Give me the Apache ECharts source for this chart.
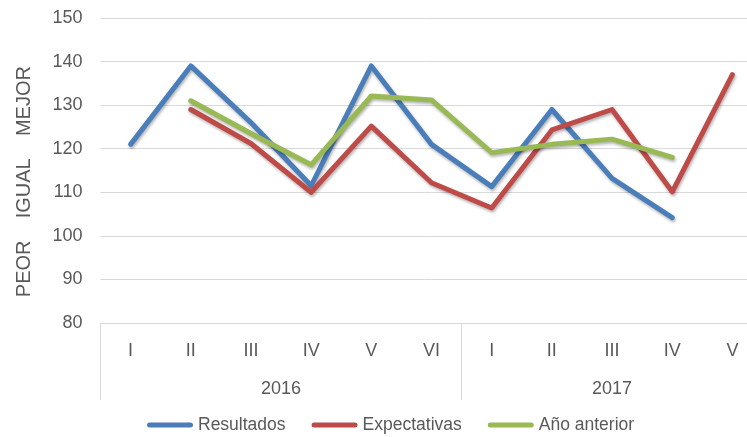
<!DOCTYPE html>
<html>
<head>
<meta charset="utf-8">
<script src="https://cdn.jsdelivr.net/npm/echarts@6/dist/echarts.min.js"></script>
<style>
html,body{margin:0;padding:0;background:#fff;}
#chart{width:747px;height:437px;}
</style>
</head>
<body>
<div id="chart"></div>
<script>
// ---- data ----
var months = ['I','II','III','IV','V','VI','I','II','III','IV','V'];
var years = ['2016','2017'];
var yearSpans = [6,5];
var resultados   = [121,139,126,111.5,139,121,111.3,129,113.2,104.2,null];
var expectativas = [null,129,121.2,110,125.2,112.2,106.4,124.3,129,110.1,137];
var anoAnterior  = [null,131,123.5,116.3,132.1,131.2,119.1,121,122.2,118,null];
var yTicks = {min:80, max:150, step:10};
var seriesNames = ['Resultados','Expectativas','Año anterior'];
var yName = 'PEOR    IGUAL    MEJOR    ';

// build two-level axis (half-slot points)
var yearPoints = [], boundaries = [0], pos = 0;
for (var i = 0; i <= months.length*2; i++) yearPoints.push('');
years.forEach(function(y, k){
  yearPoints[2*pos + yearSpans[k]] = y;
  pos += yearSpans[k];
  boundaries.push(2*pos);
});

var FONT = 'Liberation Sans';
var GREY = '#595959';
var LINEC = '#d9d9d9';
var colors = ['#4a7ebb','#be4b48','#98b954'];

function mkSeries(name, data, c){
  return {
    name: name, type: 'line', data: data, xAxisIndex: 0,
    symbol: 'none', connectNulls: false, smooth: false,
    lineStyle: {width: 5, color: c, cap: 'round', join: 'round',
      shadowColor: 'rgba(0,0,0,0.3)', shadowBlur: 3, shadowOffsetX: 1, shadowOffsetY: 2},
    itemStyle: {color: c}
  };
}

var chart = echarts.init(document.getElementById('chart'), null, {renderer:'canvas'});
chart.setOption({
  animation: false,
  backgroundColor: '#ffffff',
  color: colors,
  grid: {left: 100.5, top: 18, width: 662, height: 305, containLabel: false, outerBoundsMode: 'none'},
  legend: {
    data: seriesNames, left: 147, top: 416, itemGap: 26, padding: 0,
    itemWidth: 46, itemHeight: 5,
    icon: 'path://M2.5,0 H43.5 A2.5,2.5 0 0 1 43.5,5 H2.5 A2.5,2.5 0 0 1 2.5,0 Z',
    textStyle: {fontFamily: FONT, fontSize: 17.5, color: GREY}
  },
  xAxis: [{
    type: 'category', data: months, boundaryGap: true, position: 'bottom',
    axisLine: {show: true, lineStyle: {color: LINEC, width: 1}},
    axisTick: {show: false},
    axisLabel: {color: GREY, fontFamily: FONT, fontSize: 18, margin: 19, interval: 0},
    splitLine: {show: false}
  },{
    type: 'category', data: yearPoints, boundaryGap: false, position: 'bottom',
    axisLine: {show: false},
    axisTick: {show: true, length: 77, lineStyle: {color: LINEC, width: 1},
      interval: function(i){ return boundaries.indexOf(i) >= 0; }},
    axisLabel: {color: GREY, fontFamily: FONT, fontSize: 18, margin: 57,
      interval: function(i, v){ return v !== ''; }, hideOverlap: false},
    splitLine: {show: false}
  }],
  yAxis: {
    type: 'value', min: yTicks.min, max: yTicks.max, interval: yTicks.step,
    name: yName, nameLocation: 'middle', nameGap: 66, nameRotate: 90,
    nameTextStyle: {color: GREY, fontFamily: FONT, fontSize: 20},
    axisLine: {show: false}, axisTick: {show: false},
    axisLabel: {color: GREY, fontFamily: FONT, fontSize: 18, margin: 18},
    splitLine: {show: true, lineStyle: {color: LINEC, width: 1}}
  },
  series: [
    mkSeries(seriesNames[0], resultados, colors[0]),
    mkSeries(seriesNames[1], expectativas, colors[1]),
    mkSeries(seriesNames[2], anoAnterior, colors[2])
  ]
});
</script>
</body>
</html>
